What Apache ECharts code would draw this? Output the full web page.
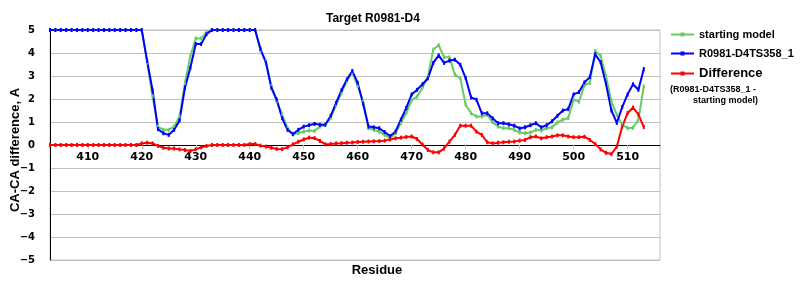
<!DOCTYPE html>
<html><head><meta charset="utf-8">
<script src="https://cdn.jsdelivr.net/npm/echarts@6/dist/echarts.min.js"></script>
<style>html,body{margin:0;padding:0;background:#fff}#c{width:800px;height:300px}</style>
</head><body><div id="c"></div>
<script>
// Residue axis: 403 .. 516 (data for 403 .. 513)
const axisFirstResidue = 403;
const axisLastResidue = 516;
const residues = [];
for (let r = axisFirstResidue; r <= axisLastResidue; r++) residues.push(String(r));

const seriesNames = ['starting model', 'R0981-D4TS358_1', 'Difference'];

// residues 403..513
const startingModel = [
  5,5,5,5,5,5,5,5,5,5, 5,5,5,5,5,5,5,5,          // 403-420
  3.58,2.12,0.80,0.66,0.66,0.80,1.24,2.70,3.87,4.63, // 421-430
  4.63,4.90,5,5,5,5,5,5,5,5,                     // 431-440
  5,4.10,3.65,2.56,1.90,1.32,0.73,0.47,0.51,0.58, // 441-450
  0.63,0.61,0.80,0.88,1.17,1.75,2.27,2.78,3.17,2.56, // 451-460
  1.90,0.73,0.66,0.58,0.44,0.29,0.51,0.95,1.39,1.95, // 461-470
  2.10,2.50,2.95,4.15,4.34,3.81,3.81,3.06,2.91,1.75, // 471-480
  1.38,1.24,1.24,1.31,0.99,0.80,0.73,0.73,0.66,0.54, // 481-490
  0.51,0.54,0.66,0.63,0.73,0.77,0.98,1.10,1.17,1.97, // 491-500
  1.88,2.60,2.70,4.09,3.87,2.99,1.90,1.31,0.88,0.73, // 501-510
  0.75,1.10,2.55                                    // 511-513
];
const modelTS358 = [
  5,5,5,5,5,5,5,5,5,5, 5,5,5,5,5,5,5,5,          // 403-420
  3.65,2.37,0.69,0.51,0.44,0.66,1.07,2.49,3.36,4.39, // 421-430
  4.39,4.82,5,5,5,5,5,5,5,5,                     // 431-440
  5,4.17,3.58,2.49,1.97,1.17,0.66,0.47,0.66,0.80, // 441-450
  0.86,0.92,0.88,0.88,1.27,1.83,2.38,2.85,3.22,2.70, // 451-460
  1.80,0.80,0.77,0.73,0.56,0.39,0.58,1.10,1.61,2.20, // 461-470
  2.40,2.64,2.90,3.57,3.90,3.57,3.67,3.71,3.49,2.91, // 471-480
  2.07,1.97,1.38,1.38,1.16,0.95,0.95,0.90,0.84,0.72, // 481-490
  0.77,0.86,0.95,0.77,0.86,1.03,1.27,1.50,1.56,2.20, // 491-500
  2.30,2.72,2.95,3.94,3.60,2.65,1.50,0.96,1.65,2.20, // 501-510
  2.64,2.40,3.30                                    // 511-513
];
const difference = [
  0,0,0,0,0,0,0,0,0,0, 0,0,0,0,0,0,0,0.07,       // 403-420
  0.10,0.07,-0.04,-0.12,-0.15,-0.15,-0.19,-0.22,-0.26,-0.19, // 421-430
  -0.10,-0.04,0,0,0,0,0,0,0,0.04,               // 431-440
  0.04,-0.03,-0.07,-0.12,-0.17,-0.18,-0.10,0.03,0.14,0.24, // 441-450
  0.32,0.30,0.18,0.03,0.04,0.07,0.08,0.10,0.11,0.13, // 451-460
  0.14,0.15,0.16,0.17,0.19,0.24,0.29,0.32,0.35,0.37, // 461-470
  0.26,0.02,-0.22,-0.32,-0.32,-0.15,0.15,0.44,0.84,0.84, // 471-480
  0.84,0.58,0.44,0.12,0.07,0.10,0.12,0.14,0.15,0.19, // 481-490
  0.22,0.34,0.37,0.29,0.34,0.37,0.42,0.42,0.37,0.34, // 491-500
  0.34,0.36,0.22,0.04,-0.19,-0.34,-0.39,-0.07,0.80,1.39, // 501-510
  1.63,1.33,0.78                                    // 511-513
];

const colors = ['#66cc66', '#0000ff', '#ff0000'];
const labelEvery10 = (idx, val) => Number(val) % 10 === 0;

const chart = echarts.init(document.getElementById('c'), null, {renderer: 'canvas'});
const mk = (name, data, color) => ({
  name, type: 'line', data, xAxisIndex: 0, yAxisIndex: 0,
  symbol: 'rect', symbolSize: [2, 4], showSymbol: true, showAllSymbol: true,
  lineStyle: {color, width: 2},
  itemStyle: {color},
  emphasis: {disabled: true},
  animation: false
});
chart.setOption({
  animation: false,
  title: {
    text: 'Target R0981-D4', left: 321, top: 8,
    textStyle: {fontFamily: 'Liberation Sans', fontWeight: 'bold', fontSize: 12, color: '#000'}
  },
  legend: {
    orient: 'vertical', left: 670, top: 29, padding: 0,
    itemWidth: 23, itemHeight: 5, itemGap: 8,
    data: seriesNames,
    formatter: n => n === 'Difference' ? '{big|Difference}' : n,
    textStyle: {
      fontFamily: 'Liberation Sans', fontWeight: 'bold', fontSize: 11, color: '#000',
      rich: {big: {fontFamily: 'Liberation Sans', fontWeight: 'bold', fontSize: 13, color: '#000'}}
    }
  },
  graphic: [
    {type: 'text', left: 670, top: 85, style: {text: '(R0981-D4TS358_1 -', font: 'bold 9px "Liberation Sans"', fill: '#000'}},
    {type: 'text', left: 693, top: 96, style: {text: 'starting model)', font: 'bold 9px "Liberation Sans"', fill: '#000'}}
  ],
  grid: [
    {left: 50, right: 140, top: 30, bottom: 40, show: true, borderColor: '#c0c0c0', borderWidth: 1, outerBoundsMode: 'none', containLabel: false},
    // upper half (5 .. 0): its bottom axis sits on the zero line
    {left: 50, right: 140, top: 30, bottom: 155, show: false, outerBoundsMode: 'none', containLabel: false}
  ],
  xAxis: [
    {
      gridIndex: 0, type: 'category', data: residues, boundaryGap: false,
      axisLine: {show: false, onZero: false},
      axisTick: {show: false},
      axisLabel: {show: false},
      splitLine: {show: false},
      name: 'Residue', nameLocation: 'middle', nameGap: 4, nameMoveOverlap: false,
      nameTextStyle: {fontFamily: 'Liberation Sans', fontWeight: 'bold', fontSize: 13, color: '#000', padding: [0, 0, 0, 44]}
    },
    {
      gridIndex: 1, type: 'category', data: residues, boundaryGap: false, position: 'bottom',
      axisLine: {show: true, onZero: false, lineStyle: {color: '#000', width: 1}},
      axisTick: {show: true, interval: labelEvery10, length: 4, lineStyle: {color: '#c0c0c0'}},
      axisLabel: {interval: labelEvery10, fontFamily: 'DejaVu Sans', fontWeight: 'bold', fontSize: 11, color: '#000', margin: 7},
      splitLine: {show: false}
    }
  ],
  yAxis: [
    {
      gridIndex: 0, type: 'value', min: -5, max: 5, interval: 1,
      axisLine: {show: true, onZero: false, lineStyle: {color: '#000', width: 1}},
      axisTick: {show: false},
      axisLabel: {
        fontFamily: 'DejaVu Sans', fontWeight: 'bold', fontSize: 10, color: '#000', margin: 15,
        formatter: v => v < 0 ? '\u2212' + Math.abs(v) : String(v)
      },
      splitLine: {lineStyle: {color: '#c0c0c0', width: 1}},
      name: 'CA-CA difference, A', nameLocation: 'middle', nameGap: 28, nameRotate: 90, nameMoveOverlap: false,
      nameTextStyle: {fontFamily: 'Liberation Sans', fontWeight: 'bold', fontSize: 13, color: '#000', padding: [0, 10, 0, 0]}
    },
    {
      gridIndex: 1, type: 'value', min: 0, max: 5, interval: 1, show: false
    }
  ],
  series: [
    mk(seriesNames[0], startingModel, colors[0]),
    mk(seriesNames[1], modelTS358, colors[1]),
    mk(seriesNames[2], difference, colors[2])
  ]
});
</script></body></html>
